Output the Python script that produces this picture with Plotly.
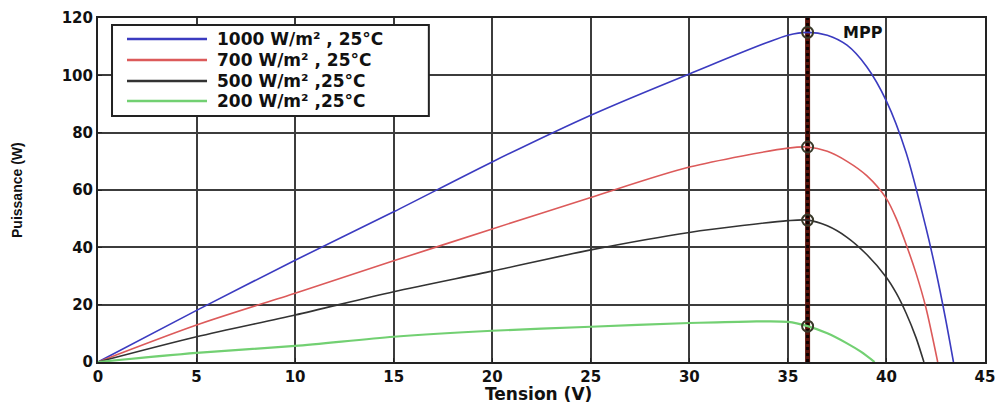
import plotly.graph_objects as go

# Data
v_1000 = [0, 5, 10, 15, 20, 25, 30, 35, 36, 37, 38, 39, 40, 41, 42, 42.5, 43, 43.4]
p_1000 = [0, 18, 35.5, 52.4, 69.8, 86.1, 100.5, 114, 115, 114, 110.5, 103, 91, 73, 47, 32, 15, 0]

v_700 = [0, 5, 10, 15, 20, 25, 30, 35, 36, 37, 38, 39, 40, 40.5, 41, 41.5, 42, 42.6]
p_700 = [0, 12.9, 24, 35.3, 46.4, 57.4, 68, 74.6, 75, 73.5, 70, 65, 57, 50, 41, 31, 19, 0]

v_500 = [0, 5, 10, 15, 20, 25, 30, 35, 36, 37, 38, 39, 40, 40.5, 41, 41.5, 41.9]
p_500 = [0, 8.8, 16.4, 24.5, 31.7, 39.1, 45.2, 49.3, 49.5, 47.5, 43.5, 37.5, 29.5, 24, 17, 8.5, 0]

v_200 = [0, 5, 10, 15, 20, 25, 30, 33, 35, 36, 37, 38, 38.7, 39.4]
p_200 = [0, 3.2, 5.6, 8.8, 10.9, 12.3, 13.6, 14.1, 14.0, 12.5, 10, 6.5, 3.6, 0]

mpp_v = [36, 36, 36, 36]
mpp_p = [115, 75, 49.5, 12.5]

series_names = ["1000 W/m² , 25°C", "700 W/m² , 25°C", "500 W/m² ,25°C", "200 W/m² ,25°C"]
series_colors = ["#3b3bc0", "#dc5a5a", "#333333", "#72d072"]
series_widths = [1.6, 1.6, 1.6, 2.2]

x_range = [0, 45]
y_range = [0, 120]

fig = go.Figure()

# MPP vertical line (drawn first, under curves)
fig.add_trace(go.Scatter(x=[36, 36], y=y_range, mode="lines",
                         line=dict(color="#5a140c", width=5), showlegend=False, hoverinfo="skip"))
fig.add_trace(go.Scatter(x=[36, 36], y=y_range, mode="lines",
                         line=dict(color="#0d0202", width=3, dash="dot"), showlegend=False, hoverinfo="skip"))

for vs, ps, name, col, w in zip([v_1000, v_700, v_500, v_200],
                                [p_1000, p_700, p_500, p_200],
                                series_names, series_colors, series_widths):
    fig.add_trace(go.Scatter(x=vs, y=ps, mode="lines", name=name, showlegend=False,
                             line=dict(color=col, width=w, shape="spline", smoothing=0.8)))

fig.add_trace(go.Scatter(x=mpp_v, y=mpp_p, mode="markers", showlegend=False,
                         marker=dict(symbol="circle-open", size=11, color="#3a3a2a",
                                     line=dict(width=2, color="#3a3a2a"))))

tick_font = dict(family="DejaVu Sans", size=15, color="#111", weight="bold")
legend_font = dict(family="DejaVu Sans", size=17, color="#111", weight="bold")

# Manual legend (box, line samples, labels) in paper coordinates
shapes = [dict(type="rect", xref="paper", yref="paper", x0=0.0158, x1=0.373, y0=0.715, y1=0.980,
               line=dict(color="#222", width=2), fillcolor="white", layer="above")]
annotations = []
row_y = [0.939, 0.878, 0.817, 0.759]
for name, col, ry in zip(series_names, series_colors, row_y):
    shapes.append(dict(type="line", xref="paper", yref="paper", x0=0.0327, x1=0.1229, y0=ry, y1=ry,
                       line=dict(color=col, width=2.5), layer="above"))
    annotations.append(dict(x=0.1319, y=ry, xref="paper", yref="paper", text=name, showarrow=False,
                            xanchor="left", yanchor="middle", font=legend_font))

annotations.append(dict(x=38.8, y=115, xref="x", yref="y", text="MPP", showarrow=False,
                        font=dict(family="DejaVu Sans", size=16, color="#111", weight="bold")))
annotations.append(dict(x=(17 - 98) / 887, y=0.5, xref="paper", yref="paper", text="Puissance (W)",
                        textangle=-90, showarrow=False, xanchor="center", yanchor="middle",
                        font=dict(family="Liberation Sans Narrow, Liberation Sans", size=14,
                                  color="#111", weight="bold")))
annotations.append(dict(x=(538 - 98) / 887, y=(362 - 394) / 344, xref="paper", yref="paper",
                        text="Tension (V)", showarrow=False, xanchor="center", yanchor="middle",
                        font=dict(family="DejaVu Sans", size=17, color="#111", weight="bold")))

fig.update_layout(
    width=1003, height=405,
    margin=dict(l=98, r=18, t=18, b=43, autoexpand=False),
    paper_bgcolor="white", plot_bgcolor="white",
    showlegend=False,
    xaxis=dict(range=x_range, dtick=5, tick0=0, showgrid=True, gridcolor="#3c3c3c", gridwidth=2,
               showline=True, linecolor="#222", linewidth=2, mirror=True,
               ticks="inside", ticklen=4, tickcolor="#222",
               tickfont=tick_font, zeroline=False, automargin=False),
    yaxis=dict(range=y_range, dtick=20, tick0=0, showgrid=True, gridcolor="#3c3c3c", gridwidth=2,
               showline=True, linecolor="#222", linewidth=2, mirror=True,
               ticks="inside", ticklen=4, tickcolor="#222",
               tickfont=tick_font, zeroline=False, automargin=False),
    shapes=shapes,
    annotations=annotations,
)

fig.write_html("out.html")
